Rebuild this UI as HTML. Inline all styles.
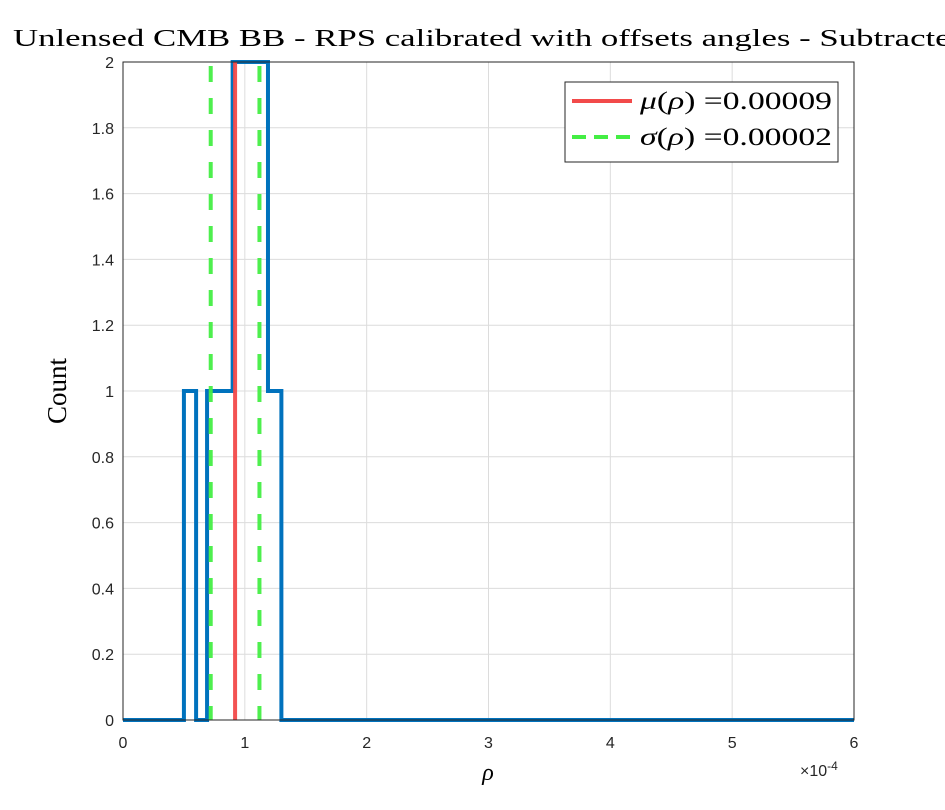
<!DOCTYPE html>
<html><head><meta charset="utf-8"><style>
body{margin:0;background:#fff}
svg{display:block}
.t{font-family:"Liberation Sans",sans-serif;font-size:16px;fill:#262626}
.s{font-family:"Liberation Serif",serif;fill:#000}
</style></head><body>
<svg id="c" width="945" height="810" viewBox="0 0 945 810">
<text class="s" x="13" y="46" font-size="24" textLength="955" lengthAdjust="spacingAndGlyphs">Unlensed CMB BB - RPS calibrated with offsets angles - Subtracted</text>
<g id="grid"></g>
<g id="marks"></g>
<g id="axes"></g>
<text class="s" x="488" y="780" font-size="24" font-style="italic" text-anchor="middle">ρ</text>
<text class="t" x="800" y="776" font-size="15">×10<tspan dy="-6" font-size="12">-4</tspan></text>
<text class="s" x="66" y="391" font-size="27" text-anchor="middle" transform="rotate(-90 66 391)">Count</text>
<g>
<rect x="565" y="82" width="273" height="80" fill="#fff" stroke="#262626" stroke-width="1"/>
<line x1="572" y1="101" x2="632" y2="101" stroke="#f24a4a" stroke-width="4"/>
<text class="s" x="640" y="109" font-size="25" textLength="192" lengthAdjust="spacingAndGlyphs"><tspan font-style="italic">μ</tspan>(<tspan font-style="italic">ρ</tspan>) =0.00009</text>
<line x1="572" y1="137" x2="632" y2="137" stroke="#44ee44" stroke-width="4" stroke-dasharray="14,8"/>
<text class="s" x="640" y="145" font-size="25" textLength="192" lengthAdjust="spacingAndGlyphs"><tspan font-style="italic">σ</tspan>(<tspan font-style="italic">ρ</tspan>) =0.00002</text>
</g>
</svg>
<script>
const binEdges=[0,0.50,0.60,0.69,0.90,1.19,1.30,6];
const counts=[0,1,0,1,2,1,0];
const meanVal=0.92;
const sigmaVal=0.20;
const xTicks=[0,1,2,3,4,5,6];
const yTicks=[0,0.2,0.4,0.6,0.8,1,1.2,1.4,1.6,1.8,2];
const X0=123,X1=854,Y0=720,Y1=62;
const xs=v=>X0+(v-0)/(6-0)*(X1-X0);
const ys=v=>Y0-(v-0)/(2-0)*(Y0-Y1);
const NS="http://www.w3.org/2000/svg";
function mk(tag,attrs,parent){const e=document.createElementNS(NS,tag);for(const k in attrs)e.setAttribute(k,attrs[k]);parent.appendChild(e);return e;}
const grid=document.getElementById('grid'),marks=document.getElementById('marks'),axes=document.getElementById('axes');
xTicks.forEach(t=>{const l=mk('line',{x1:xs(t),x2:xs(t),y1:Y1,y2:Y0,stroke:'#dcdcdc','stroke-width':1},grid);


const tx=mk('text',{x:xs(t),y:Y0+28,'text-anchor':'middle',class:'t'},axes);tx.textContent=t;

});
yTicks.forEach(t=>{const l=mk('line',{x1:X0,x2:X1,y1:ys(t),y2:ys(t),stroke:'#dcdcdc','stroke-width':1},grid);


const tx=mk('text',{x:X0-9,y:ys(t)+6,'text-anchor':'end',class:'t'},axes);tx.textContent=String(t);

});
const box=mk('rect',{x:X0,y:Y1,width:X1-X0,height:Y0-Y1,fill:'none',stroke:'#262626','stroke-width':1},axes);


let d='M'+xs(binEdges[0])+','+ys(counts[0]);
for(let i=0;i<counts.length;i++){d+=' L'+xs(binEdges[i])+','+ys(counts[i])+' L'+xs(binEdges[i+1])+','+ys(counts[i]);}
const h=mk('path',{d:d,fill:'none',stroke:'#0072bd','stroke-width':4,'stroke-linejoin':'miter'},marks);


const m=mk('line',{x1:xs(meanVal),x2:xs(meanVal),y1:Y0,y2:Y1,stroke:'#f24a4a','stroke-opacity':0.95,'stroke-width':4},marks);


[meanVal-sigmaVal,meanVal+sigmaVal].forEach(v=>{const g=mk('line',{x1:xs(v),x2:xs(v),y1:Y1,y2:Y0,stroke:'#44ee44','stroke-opacity':0.95,'stroke-width':4,'stroke-dasharray':'16,16','stroke-dashoffset':-4},marks);

});
</script>
</body></html>
